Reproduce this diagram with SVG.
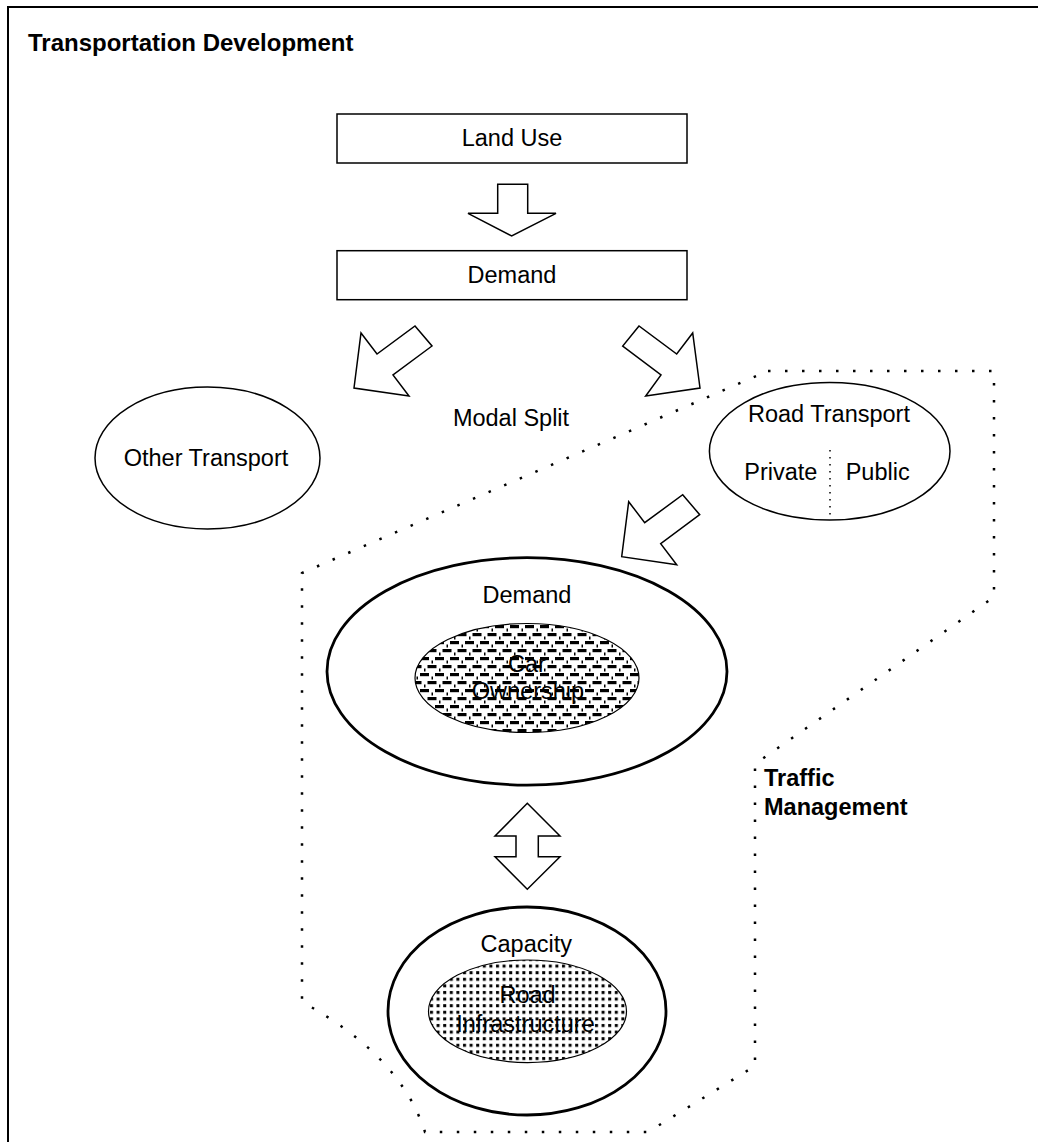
<svg xmlns="http://www.w3.org/2000/svg" width="1038" height="1142" viewBox="0 0 1038 1142">
<style>
text{font-family:"Liberation Sans",Arial,sans-serif;font-size:23.5px;fill:#000}
.b{font-weight:bold}
.c{text-anchor:middle}
.box{fill:#fff;stroke:#000;stroke-width:1.5}
.thin{fill:#fff;stroke:#000;stroke-width:1.5}
.thick{fill:#fff;stroke:#000;stroke-width:2.8}
.arr{fill:#fff;stroke:#000;stroke-width:1.5;stroke-linejoin:miter}
.dots{fill:none;stroke:#000;stroke-width:2.5;stroke-dasharray:2.5 14.5}
</style>
<defs>
<pattern id="dash" width="15" height="16" patternUnits="userSpaceOnUse">
<rect width="15" height="16" fill="#fff"/>
<rect x="0" y="1" width="9" height="3.2" fill="#000"/>
<rect x="7.5" y="9" width="9" height="3.2" fill="#000"/>
<rect x="-7.5" y="9" width="9" height="3.2" fill="#000"/>
<rect x="11.5" y="4.5" width="1.5" height="3" fill="#000"/>
<rect x="4" y="12.5" width="1.5" height="3" fill="#000"/>
</pattern>
<pattern id="dot" width="6.6" height="6.6" patternUnits="userSpaceOnUse">
<rect width="6.6" height="6.6" fill="#fff"/>
<rect x="1" y="1" width="3" height="3" fill="#000"/>
</pattern>
</defs>
<rect width="1038" height="1142" fill="#fff"/>
<rect x="8" y="7" width="1040" height="1150" fill="none" stroke="#000" stroke-width="2"/>
<text class="b" x="28" y="51" style="font-size:24px">Transportation Development</text>

<g id="traffic-management">
<path class="dots" d="M768,371 L994,371 L994,597 L755,764 L755,1066 L648,1132 L425,1132 Q400,1055 302,1002 L302,573 Z"/>
<text class="b" x="764" y="786">Traffic</text>
<text class="b" x="764" y="815">Management</text>
</g>

<g id="land-use">
<rect class="box" x="337" y="114" width="350" height="49"/>
<text class="c" x="512" y="146">Land Use</text>
</g>

<g id="demand-box">
<rect class="box" x="337" y="250.7" width="350" height="49"/>
<text class="c" x="512" y="282.7">Demand</text>
</g>

<g id="modal-split">
<text class="c" x="511" y="426">Modal Split</text>
</g>

<g id="other-transport">
<ellipse class="thin" cx="207.5" cy="458" rx="112.5" ry="71"/>
<text class="c" x="206" y="466">Other Transport</text>
</g>

<g id="road-transport">
<ellipse class="thin" cx="829.7" cy="451.2" rx="120.3" ry="68.8"/>
<line x1="830" y1="450" x2="830" y2="518" stroke="#000" stroke-width="1.5" stroke-dasharray="1.5 5.5"/>
<text class="c" x="829" y="421.7">Road Transport</text>
<text x="744.3" y="480">Private</text>
<text x="845.7" y="480">Public</text>
</g>

<g id="demand">
<ellipse class="thick" cx="527" cy="671.4" rx="200" ry="113.7"/>
<ellipse cx="527" cy="678" rx="112" ry="54.5" fill="url(#dash)" stroke="#000" stroke-width="1.2"/>
<text class="c" x="527" y="603.3">Demand</text>
<text class="c" x="527" y="671.7">Car</text>
<text class="c" x="528" y="699">Ownership</text>
</g>

<g id="capacity">
<ellipse class="thick" cx="527" cy="1011" rx="139" ry="104"/>
<ellipse cx="527.5" cy="1011.3" rx="99" ry="51.3" fill="url(#dot)" stroke="#000" stroke-width="1.2"/>
<text class="c" x="526.3" y="951.7">Capacity</text>
<text class="c" x="527.5" y="1003.3">Road</text>
<text class="c" x="525.5" y="1031.7">Infrastructure</text>
</g>

<g id="connectors">
<polygon class="arr" points="497.7,184.3 527.7,184.3 527.7,213.3 556,213.3 511.7,236 468,213.3 497.7,213.3"/>
<polygon class="arr" points="415,326 432,346 393,375 409,396 354,388 361,333 377,354"/>
<polygon class="arr" points="639,326 622.7,346 661,375 645.7,396 700,388 692.7,333 676.7,354"/>
<polygon class="arr" points="682.7,494.7 699.7,514.7 660.7,543.7 676.7,564.7 621.7,556.7 628.7,501.7 644.7,522.7"/>
<polygon class="arr" points="527.3,803.3 560,836 538.3,836 538.3,856.7 560,856.7 527.3,889.3 495,856.7 516,856.7 516,836 495,836"/>
</g>
</svg>
